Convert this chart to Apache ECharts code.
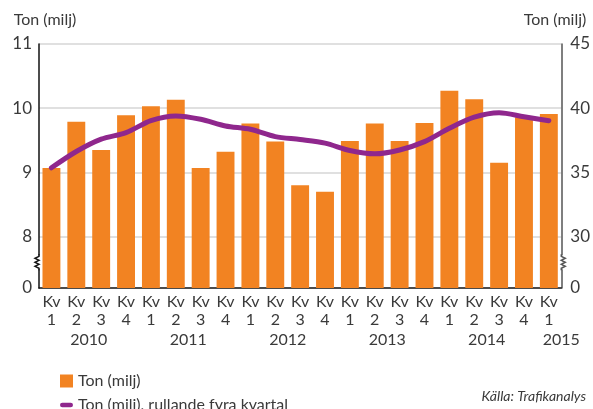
<!DOCTYPE html>
<html>
<head>
<meta charset="utf-8">
<script src="https://cdn.jsdelivr.net/npm/echarts@6/dist/echarts.min.js"></script>
<style>
  html, body { margin: 0; padding: 0; background: #fff; }
  #chart { width: 593px; height: 409px; }
</style>
</head>
<body>
<div id="chart"></div>
<script>
// kvartal och år
const quarters = ["1", "2", "3", "4", "1", "2", "3", "4", "1", "2", "3", "4", "1", "2", "3", "4", "1", "2", "3", "4", "1"];
const years = ["2010", "2011", "2012", "2013", "2014", "2015"];
// Ton (milj) per kvartal, vänster axel
const tonKvartal = [9.07, 9.79, 9.35, 9.89, 10.03, 10.13, 9.07, 9.32, 9.76, 9.48, 8.80, 8.70, 9.49, 9.76, 9.49, 9.77, 10.27, 10.14, 9.15, 9.86, 9.91];
// Ton (milj), rullande fyra kvartal, höger axel
const tonRullande = [35.36, 36.63, 37.59, 38.10, 39.03, 39.40, 39.14, 38.62, 38.36, 37.79, 37.56, 37.28, 36.71, 36.45, 36.75, 37.40, 38.44, 39.30, 39.65, 39.34, 39.03];
// tick labels
const leftTicks = [7.2, 8, 9, 10, 11];
const rightTicks = [26, 30, 35, 40, 45];

const FONT = "Lato";
const TXT = "#3a3a3a";
const ORANGE = "#f28322";
const PURPLE = "#8f278d";

let myChart = echarts.init(document.getElementById("chart"));

// årsetiketter under kvartalen
let yearPos = years.map((y, i) => Math.min(i * 4 + 2, quarters.length));

let option = {
  animation: false,
  backgroundColor: "#fff",
  textStyle: { fontFamily: FONT, color: TXT },
  grid: { left: 39, right: 26, top: 44, bottom: 121 },
  legend: {
    orient: "vertical",
    left: 55,
    top: 368,
    height: 60,
    itemWidth: 13,
    itemHeight: 13,
    itemGap: 8,
    textStyle: { fontFamily: FONT, fontSize: 16, lineHeight: 16, color: TXT },
    data: [
      { name: "Ton (milj)", icon: "rect" },
      { name: "Ton (milj), rullande fyra kvartal",
        icon: "path://M0,0 M14,14 M2.5,4.5 L11.5,4.5 A2.5,2.5 0 0 1 11.5,9.5 L2.5,9.5 A2.5,2.5 0 0 1 2.5,4.5 Z" },
    ],
  },
  title: {
    text: "Källa: Trafikanalys",
    right: 2,
    bottom: 1,
    textStyle: { fontFamily: FONT, fontSize: 14, fontStyle: "italic", fontWeight: "normal", color: TXT },
  },
  xAxis: [
    {
      type: "category",
      data: quarters.map((q) => "Kv\n" + q),
      axisLine: { lineStyle: { color: "#111", width: 1.5 } },
      axisTick: { inside: true, length: 4, lineStyle: { color: "#111", width: 1.5 } },
      axisLabel: { fontFamily: FONT, fontSize: 16, color: TXT, lineHeight: 18, margin: 5, interval: 0 },
    },
    {
      type: "value",
      position: "bottom",
      min: 0,
      max: quarters.length,
      axisLine: { show: false },
      axisTick: { show: false },
      splitLine: { show: false },
      axisLabel: {
        customValues: yearPos,
        margin: 44,
        fontFamily: FONT,
        fontSize: 16,
        color: TXT,
        formatter: (v) => years[yearPos.indexOf(v)] || "",
      },
    },
  ],
  yAxis: [
    {
      type: "value",
      min: 7.2,
      max: 11,
      name: "Ton (milj)",
      nameLocation: "end",
      nameGap: 16,
      nameTextStyle: { fontFamily: FONT, fontSize: 16, color: TXT, align: "center", padding: [0, 0, 0, 12] },
      axisLine: { show: true, lineStyle: { color: "#111", width: 1.5 } },
      axisTick: { show: false, customValues: [8, 9, 10, 11] },
      axisLabel: {
        customValues: leftTicks,
        fontFamily: FONT,
        fontSize: 17,
        color: TXT,
        margin: 7,
        formatter: (v) => (v < 7.5 ? "0" : String(v)),
      },
      splitLine: { show: true, lineStyle: { color: "#d6d6d6", width: 1.5 } },
    },
    {
      type: "value",
      min: 26,
      max: 45,
      name: "Ton (milj)",
      nameLocation: "end",
      nameGap: 16,
      nameTextStyle: { fontFamily: FONT, fontSize: 16, color: TXT, align: "right", padding: [0, -25, 0, 0] },
      position: "right",
      axisLine: { show: true, lineStyle: { color: "#555", width: 1.5 } },
      axisTick: { show: false },
      axisLabel: {
        customValues: rightTicks,
        fontFamily: FONT,
        fontSize: 17,
        color: TXT,
        margin: 9,
        formatter: (v) => (v < 28 ? "0" : String(v)),
      },
      splitLine: { show: false },
    },
  ],
  series: [
    {
      name: "Ton (milj)",
      type: "bar",
      data: tonKvartal,
      barWidth: "72%",
      itemStyle: { color: ORANGE },
    },
    {
      name: "Ton (milj), rullande fyra kvartal",
      type: "line",
      yAxisIndex: 1,
      data: tonRullande,
      smooth: 0.3,
      symbol: "none",
      lineStyle: { color: PURPLE, width: 5, cap: "round" },
      itemStyle: { color: PURPLE },
    },
  ],
};

myChart.setOption(option);

// axelbrott (sicksack) på båda y-axlarna
function zigzag(x, y, dir, color) {
  let pts = [[x, y - 8], [x, y - 6]];
  for (let k = 0; k < 3; k++) {
    pts.push([x + dir * 4, y - 4 + k * 4]);
    pts.push([x, y - 2 + k * 4]);
  }
  pts.push([x, y + 8]);
  return [
    { type: "rect", shape: { x: x - 1.5, y: y - 7, width: 3, height: 14 }, style: { fill: "#fff" }, z: 100 },
    { type: "polyline", shape: { points: pts }, style: { stroke: color, lineWidth: 1.5, fill: null }, z: 101 },
  ];
}
let rect = myChart.getModel().getComponent("grid").coordinateSystem.getRect();
let yBreak = myChart.convertToPixel({ yAxisIndex: 0 }, 7.6);
myChart.setOption({
  graphic: zigzag(rect.x, yBreak, -1, "#111").concat(zigzag(rect.x + rect.width, yBreak, 1, "#555")),
});
</script>
</body>
</html>
